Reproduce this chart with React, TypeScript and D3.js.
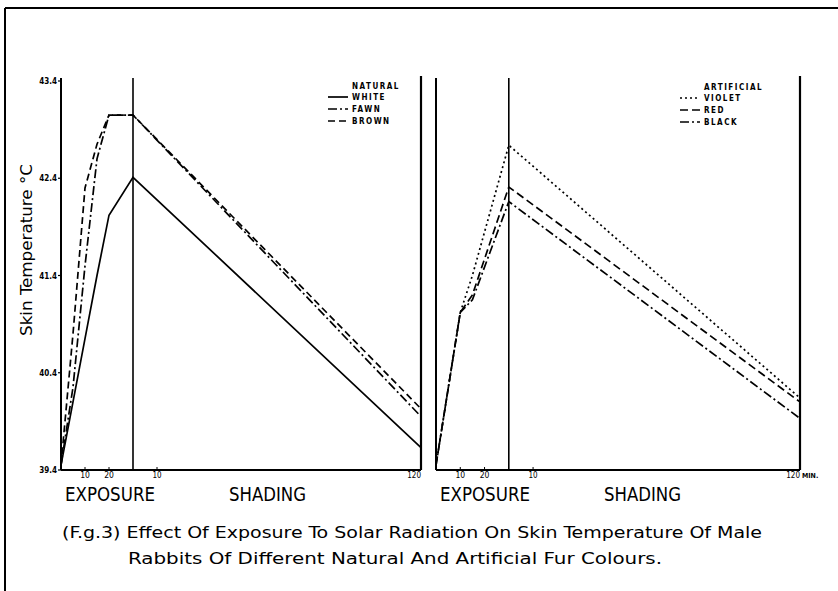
import React from 'react';
import * as d3 from 'd3';

// natural fur colours (left panel), minutes from start of exposure
const natTimes = [0, 5, 10, 15, 20, 30, 150];
const whiteTemp = [39.45, 40.1, 40.75, 41.4, 42.02, 42.41, 39.63];
const fawnTemp = [39.45, 40.25, 41.5, 42.6, 43.05, 43.05, 39.95];
const brownTemp = [39.45, 40.8, 42.3, 42.75, 43.05, 43.05, 40.03];

// artificial fur colours (right panel)
const artTimes = [0, 10, 15, 30, 150];
const violetTemp = [39.45, 41.02, 41.4, 42.74, 40.14];
const redTemp = [39.45, 41.02, 41.2, 42.31, 40.1];
const blackTemp = [39.45, 41.02, 41.15, 42.16, 39.93];

const yTicks = [39.4, 40.4, 41.4, 42.4, 43.4];
const exposureTicks = [10, 20];
const shadingTicks = [10, 120];

const natSeries = [
    { name: 'WHITE', temps: whiteTemp, dash: null },
    { name: 'FAWN', temps: fawnTemp, dash: '9,3,2,3' },
    { name: 'BROWN', temps: brownTemp, dash: '7,4' },
];
const artSeries = [
    { name: 'VIOLET', temps: violetTemp, dash: '2,3' },
    { name: 'RED', temps: redTemp, dash: '8,4' },
    { name: 'BLACK', temps: blackTemp, dash: '9,3,2,3' },
];

const W = 838, H = 591;
const top = 81, bottom = 470;
const font = "'DejaVu Sans Condensed', 'Liberation Sans Narrow', 'DejaVu Sans', sans-serif";

const y = d3.scaleLinear().domain([39.4, 43.4]).range([bottom, top]);

function Panel({ x0, x1, times, series, legendTitle, lx, ly, showY, minLabel }) {
    const x = d3.scaleLinear().domain([0, 150]).range([x0, x1]);
    const line = d3.line().x((d) => x(d[0])).y((d) => y(d[1]));
    const lineTop = 76;
    return (
        <g>
            {/* frame lines */}
            <line x1={x(0)} y1={lineTop + 2} x2={x(0)} y2={bottom} stroke="#000" strokeWidth={2} />
            <line x1={x(30)} y1={lineTop + 2} x2={x(30)} y2={bottom} stroke="#000" strokeWidth={1.6} />
            <line x1={x(150)} y1={lineTop} x2={x(150)} y2={bottom} stroke="#000" strokeWidth={2.2} />
            <line x1={x(0)} y1={bottom} x2={x(150)} y2={bottom} stroke="#000" strokeWidth={2} />

            {showY && yTicks.map((t) => (
                <g key={t}>
                    <line x1={x(0) - 3} x2={x(0)} y1={y(t)} y2={y(t)} stroke="#000" strokeWidth={1.2} />
                    <text x={x(0) - 4} y={y(t) + 3} textAnchor="end" fontSize={8} fontWeight="bold"
                          fontFamily={font}>{t.toFixed(1)}</text>
                </g>
            ))}

            {exposureTicks.map((t) => (
                <g key={'e' + t}>
                    <line x1={x(t)} x2={x(t)} y1={bottom - 3} y2={bottom} stroke="#000" strokeWidth={1} />
                    <text x={x(t)} y={bottom + 8} textAnchor="middle" fontSize={8.5} fontFamily={font}>{t}</text>
                </g>
            ))}
            {shadingTicks.map((t) => (
                <g key={'s' + t}>
                    <line x1={x(t + 30)} x2={x(t + 30)} y1={bottom - 3} y2={bottom} stroke="#000" strokeWidth={1} />
                    <text x={x(t + 30)} y={bottom + 8} textAnchor={t === 120 ? 'end' : 'middle'}
                          fontSize={8} fontFamily={font}>{t}</text>
                </g>
            ))}
            {minLabel && (
                <text x={x(150) + 2} y={bottom + 8} fontSize={7} fontWeight="bold" fontFamily={font}>MIN.</text>
            )}

            <text x={x(0) + 4} y={bottom + 31} fontSize={19} fontFamily={font}
                  textLength={90} lengthAdjust="spacingAndGlyphs">EXPOSURE</text>
            <text x={x(0) + 168} y={bottom + 31} fontSize={19} fontFamily={font}
                  textLength={77} lengthAdjust="spacingAndGlyphs">SHADING</text>

            {series.map((s) => (
                <path key={s.name}
                      d={line(times.map((t, i) => [t, s.temps[i]]))}
                      fill="none" stroke="#000" strokeWidth={1.7}
                      strokeDasharray={s.dash || undefined} />
            ))}

            {/* legend */}
            <text x={lx + 24} y={ly} fontSize={8} fontWeight="bold" fontFamily={font}
                  letterSpacing={1.5}>{legendTitle}</text>
            {series.map((s, i) => (
                <g key={'lg' + s.name}>
                    <line x1={lx} x2={lx + 20} y1={ly + 8 + i * 12} y2={ly + 8 + i * 12}
                          stroke="#000" strokeWidth={1.7} strokeDasharray={s.dash || undefined} />
                    <text x={lx + 24} y={ly + 11 + i * 12} fontSize={8} fontWeight="bold"
                          fontFamily={font} letterSpacing={1.5}>{s.name}</text>
                </g>
            ))}
        </g>
    );
}

export default function App() {
    return (
        <div style={{ position: 'absolute', left: 0, top: 0 }}>
            <svg width={W} height={H} style={{ display: 'block', background: '#fff' }}>
                {/* page border */}
                <line x1={5} y1={8} x2={W} y2={8} stroke="#000" strokeWidth={2} />
                <line x1={5} y1={8} x2={5} y2={H} stroke="#000" strokeWidth={2} />

                <Panel x0={61} x1={421} times={natTimes} series={natSeries}
                       legendTitle="NATURAL" lx={328} ly={89} showY={true} minLabel={false} />
                <Panel x0={436} x1={800} times={artTimes} series={artSeries}
                       legendTitle="ARTIFICIAL" lx={680} ly={90} showY={false} minLabel={true} />

                <text transform="translate(32,250) rotate(-90)" textAnchor="middle" fontSize={16}
                      fontFamily={font} textLength={172} lengthAdjust="spacingAndGlyphs">
                    Skin  Temperature  °C
                </text>

                <text x={62} y={538} fontSize={16} fontFamily={font} textLength={700}
                      lengthAdjust="spacingAndGlyphs">
                    (F.g.3) Effect Of Exposure To Solar Radiation On Skin Temperature Of Male
                </text>
                <text x={128} y={564} fontSize={16} fontFamily={font} textLength={534}
                      lengthAdjust="spacingAndGlyphs">
                    Rabbits Of Different Natural And Artificial  Fur  Colours.
                </text>
            </svg>
        </div>
    );
}
